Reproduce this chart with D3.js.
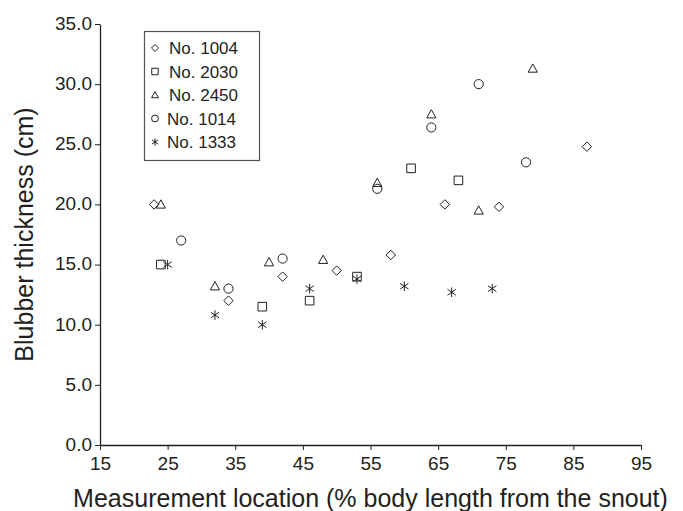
<!DOCTYPE html>
<html>
<head>
<meta charset="utf-8">
<script src="https://cdn.jsdelivr.net/npm/d3@7"></script>
<style>
  body { margin: 0; background: #fff; }
  text { font-family: "Liberation Sans", Arial, Helvetica, sans-serif; fill: #231f20; }
</style>
</head>
<body>
<div id="chart"></div>
<script>
// series names, in legend order
var seriesNames = ["No. 1004", "No. 2030", "No. 2450", "No. 1014", "No. 1333"];

// [location %, thickness cm]
var no1004 = [[23, 20], [34, 12], [42, 14], [50, 14.5], [58, 15.8], [66, 20], [74, 19.8], [87, 24.8]];
var no2030 = [[24, 15], [39, 11.5], [46, 12], [53, 14], [61, 23], [68, 22]];
var no2450 = [[24, 20], [32, 13.2], [40, 15.2], [48, 15.4], [56, 21.8], [64, 27.5], [71, 19.5], [79, 31.3]];
var no1014 = [[27, 17], [34, 13], [42, 15.5], [56, 21.3], [64, 26.4], [71, 30], [78, 23.5]];
var no1333 = [[25, 15], [32, 10.8], [39, 10], [46, 13], [53, 13.8], [60, 13.2], [67, 12.7], [73, 13]];

var xTicks = [15, 25, 35, 45, 55, 65, 75, 85, 95];
var yTicks = [0, 5, 10, 15, 20, 25, 30, 35];

var width = 683, height = 511;
var ink = "#231f20";

// marker shapes, r = half size
var shapes = {
  diamond: { draw: function (c, r) { c.moveTo(0, -r); c.lineTo(r, 0); c.lineTo(0, r); c.lineTo(-r, 0); c.closePath(); } },
  square: { draw: function (c, r) { c.rect(-r, -r, 2 * r, 2 * r); } },
  triangle: { draw: function (c, r) { c.moveTo(0, -r); c.lineTo(r, r * 0.8); c.lineTo(-r, r * 0.8); c.closePath(); } },
  circle: { draw: function (c, r) { c.moveTo(r, 0); c.arc(0, 0, r, 0, 2 * Math.PI); } },
  star: { draw: function (c, r) {
    c.moveTo(0, -r); c.lineTo(0, r);
    c.moveTo(-r * 0.87, -r * 0.6); c.lineTo(r * 0.87, r * 0.6);
    c.moveTo(-r * 0.87, r * 0.6); c.lineTo(r * 0.87, -r * 0.6);
  } }
};

var series = [
  { name: seriesNames[0], values: no1004, shape: shapes.diamond, r: 4.7 },
  { name: seriesNames[1], values: no2030, shape: shapes.square, r: 4.3 },
  { name: seriesNames[2], values: no2450, shape: shapes.triangle, r: 4.6 },
  { name: seriesNames[3], values: no1014, shape: shapes.circle, r: 4.6 },
  { name: seriesNames[4], values: no1333, shape: shapes.star, r: 4.8 }
];

var x = d3.scaleLinear().domain([15, 95]).range([100, 641]);
var y = d3.scaleLinear().domain([0, 35]).range([445, 24]);

var svg = d3.select("#chart").append("svg")
  .attr("width", width)
  .attr("height", height);

// axes
var xAxis = svg.append("g")
  .attr("transform", "translate(0," + y(0) + ")")
  .call(d3.axisBottom(x).tickValues(xTicks).tickSize(5).tickSizeOuter(0).tickPadding(7));

var yAxis = svg.append("g")
  .attr("transform", "translate(" + x(15) + ",0)")
  .call(d3.axisLeft(y).tickValues(yTicks).tickSize(5).tickSizeOuter(0).tickPadding(3)
    .tickFormat(d3.format(".1f")));

[xAxis, yAxis].forEach(function (a) {
  a.select(".domain").attr("stroke", ink).attr("stroke-width", 1.3);
  a.selectAll(".tick line").attr("stroke", ink).attr("stroke-width", 1);
  a.selectAll(".tick text").style("font-size", "19px").attr("fill", ink);
});
yAxis.selectAll(".tick text").attr("dy", "0.28em");

// titles
svg.append("text")
  .attr("x", (x.range()[0] + x.range()[1]) / 2)
  .attr("y", 507)
  .attr("text-anchor", "middle")
  .style("font-size", "25px")
  .text("Measurement location (% body length from the snout)");

svg.append("text")
  .attr("transform", "translate(33," + (y.range()[0] + y.range()[1]) / 2 + ") rotate(-90)")
  .attr("text-anchor", "middle")
  .style("font-size", "25px")
  .text("Blubber thickness (cm)");

// points
var sym = d3.symbol();
series.forEach(function (s) {
  svg.append("g").selectAll("path")
    .data(s.values)
    .enter()
    .append("path")
    .attr("transform", function (d) { return "translate(" + x(d[0]) + "," + y(d[1]) + ")"; })
    .attr("d", sym.type(s.shape).size(s.r)())
    .attr("fill", "none")
    .attr("stroke", ink)
    .attr("stroke-width", 1);
});

// legend
var legend = svg.append("g");
legend.append("rect")
  .attr("x", 144.5).attr("y", 31.5)
  .attr("width", 115).attr("height", 129)
  .attr("fill", "#fff")
  .attr("stroke", "#555")
  .attr("stroke-width", 1.2);

var items = legend.selectAll("g.item")
  .data(series)
  .enter()
  .append("g")
  .attr("class", "item")
  .attr("transform", function (d, i) { return "translate(0," + (54 + i * 23.5) + ")"; });

items.append("path")
  .attr("transform", "translate(155,-6)")
  .attr("d", function (d) { return sym.type(d.shape).size(d.r * 0.75)(); })
  .attr("fill", "none")
  .attr("stroke", ink)
  .attr("stroke-width", 1);

items.append("text")
  .attr("x", function (d, i) { return i < 3 ? 169 : 167; })
  .style("font-size", "17px")
  .text(function (d) { return d.name; });
</script>
</body>
</html>
